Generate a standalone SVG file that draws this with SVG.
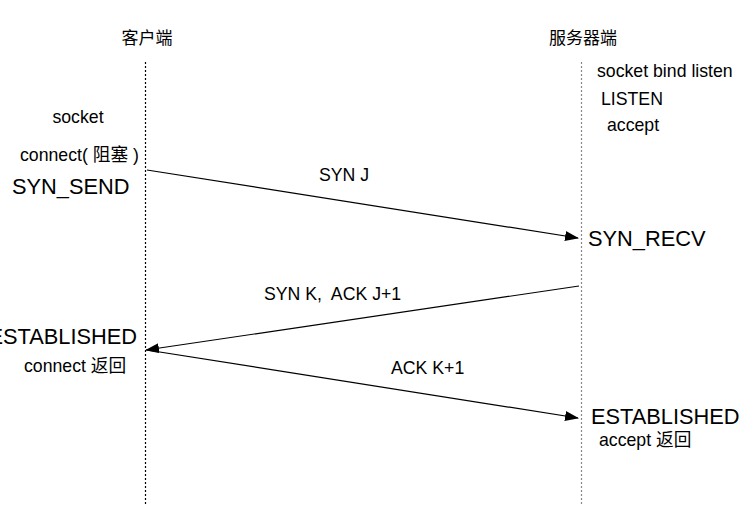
<svg xmlns="http://www.w3.org/2000/svg" width="754" height="508" viewBox="0 0 754 508">
<style>
text{font-family:"Liberation Sans","Noto Sans CJK SC",sans-serif;fill:#000}
.s{font-size:17px}
.m{font-size:17.7px}
.b{font-size:21.8px}
.life{stroke-width:1.2;stroke-dasharray:2,2;fill:none}
.msg{stroke:#000;stroke-width:1.2;fill:none;marker-end:url(#ah)}
</style>
<defs>
<marker id="ah" markerWidth="14" markerHeight="10" refX="13" refY="5" orient="auto" markerUnits="userSpaceOnUse">
<path d="M0,0 L14,5 L0,10 Z" fill="#000"/>
</marker>
</defs>
<rect width="754" height="508" fill="#fff"/>
<g id="client">
<line class="life" x1="145.5" y1="62" x2="145.5" y2="506" stroke="#000"/>
<text class="s" x="147" y="44" text-anchor="middle">客户端</text>
<text class="m" x="78" y="123" text-anchor="middle">socket</text>
<text class="m" x="20" y="161">connect( 阻塞 )</text>
<text class="b" x="12" y="194">SYN_SEND</text>
<text class="b" x="137" y="344" text-anchor="end">ESTABLISHED</text>
<text class="m" x="24" y="372">connect 返回</text>
</g>
<g id="server">
<line class="life" x1="581.5" y1="62" x2="581.5" y2="506" stroke="#888"/>
<text class="s" x="583" y="44" text-anchor="middle">服务器端</text>
<text class="m" x="597" y="77">socket bind listen</text>
<text class="m" x="601" y="105">LISTEN</text>
<text class="m" x="607" y="131">accept</text>
<text class="b" x="588" y="246">SYN_RECV</text>
<text class="b" x="591" y="424">ESTABLISHED</text>
<text class="m" x="599" y="446">accept 返回</text>
</g>
<g id="connectors">
<line class="msg" x1="147" y1="170" x2="578" y2="238"/>
<line class="msg" x1="579" y1="286" x2="146" y2="350"/>
<line class="msg" x1="147" y1="350" x2="578" y2="418"/>
<text class="m" x="319" y="181">SYN J</text>
<text class="m" x="264" y="300" xml:space="preserve">SYN K,  ACK J+1</text>
<text class="m" x="391" y="374">ACK K+1</text>
</g>
</svg>
